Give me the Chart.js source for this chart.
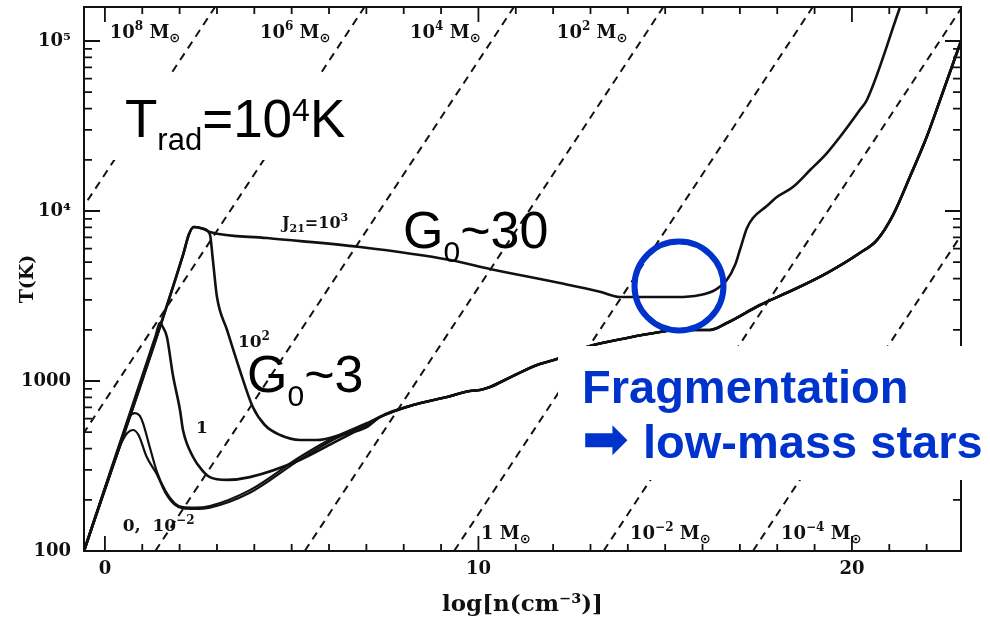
<!DOCTYPE html>
<html>
<head>
<meta charset="utf-8">
<title>Thermal evolution of primordial clouds under FUV radiation</title>
<script src="https://cdn.jsdelivr.net/npm/chart.js@4.4.1/dist/chart.umd.min.js"></script>
<style>
  html, body { margin: 0; padding: 0; background: #fff; }
  canvas { display: block; }
</style>
</head>
<body>
<canvas id="chart" width="990" height="622"></canvas>
<script>
// Axis ranges: x = log n (cm^-3), y = T (K, logarithmic)
const X_MIN = -0.56, X_MAX = 22.92;
const T_MIN = 100, T_MAX = 158489;

// Tick labels
const xTickValues = [0, 10, 20];
const xTickLabels = ['0', '10', '20'];
const yTickValues = [100, 1000, 10000, 100000];
const yTickLabels = ['100', '1000', '10⁴', '10⁵'];

// Individual early parts of each track (J21 = 0, 10^-2, 1, 10^2)
const j0X = [-0.56, 0.27, 0.45, 0.6, 0.75, 0.9, 1.12, 1.39, 1.61, 1.87, 2.09, 2.41, 2.81, 3.88, 5.22, 6.1, 7.01];
const j0T = [100, 343, 437, 494, 515, 481, 357, 283, 222, 187, 178, 177, 180, 220, 345, 450, 556];

const jm2X = [-0.56, 0.5, 0.66, 0.8, 0.93, 1.02, 1.2, 1.39, 1.61, 1.87, 2.09, 2.41, 2.81, 3.88, 5.22, 6.1, 7.01];
const jm2T = [100, 496, 615, 648, 625, 566, 409, 293, 228, 191, 181, 180, 184, 228, 357, 462, 566];

const j1X = [-0.56, 1.36, 1.47, 1.55, 1.66, 1.82, 2.01, 2.09, 2.36, 2.6, 2.81, 3.27, 3.88, 5.22, 6.1, 7.01];
const j1T = [100, 1850, 2190, 2078, 1815, 1084, 675, 515, 357, 299, 272, 262, 272, 343, 431, 551];

const j100X = [-0.56, 2.1, 2.25, 2.38, 2.6, 2.81, 2.89, 3.0, 3.27, 3.61, 3.96, 4.28, 4.69, 5.22, 5.68, 6.29, 7.01];
const j100T = [100, 5600, 7300, 8050, 7900, 7300, 5152, 3119, 1995, 1161, 703, 551, 481, 450, 450, 481, 536];

// Common high-density branch shared by the four tracks above
const mergedX = [7.36, 8.25, 9.16, 9.77, 10.04, 10.31, 10.92, 11.57, 12.1, 12.9, 13.98, 14.86, 15.31, 16.2, 16.65, 17.54, 18.42, 19.33, 20.21, 20.67, 21.1, 21.55, 22.0, 22.36, 22.92];
const mergedT = [614, 722, 805, 873, 885, 922, 1069, 1242, 1346, 1585, 1791, 1941, 1995, 1995, 2193, 2799, 3428, 4315, 5662, 6747, 9462, 15850, 27230, 44990, 100000];

// J21 = 10^3 track
const j1000X = [-0.56, 2.1, 2.25, 2.38, 2.6, 2.81, 4.34, 6.83, 9.24, 10.31, 12.18, 13.25, 13.79, 14.59, 15.31, 15.93, 16.33, 16.65, 16.87, 17.0, 17.19, 17.35, 17.72, 17.99, 18.42, 18.88, 19.33, 19.76, 20.21, 20.4, 21.28];
const j1000T = [100, 5600, 7300, 8050, 7900, 7520, 6930, 6138, 5150, 4560, 3767, 3350, 3119, 3119, 3119, 3206, 3428, 3924, 4808, 5897, 7943, 9100, 10700, 12080, 13840, 17420, 21930, 28770, 39270, 44990, 156400];

// Constant Jeans-mass lines: log n where each reaches T = 100 K and T = T_MAX
const jeansLowX  = [-6.65, -2.65, 1.35, 5.35, 9.35, 13.35, 17.35];
const jeansHighX = [2.95, 6.95, 10.95, 14.95, 18.95, 22.95, 26.95];
const massBase = ['10', '10', '10', '10', '1', '10', '10'];
const massExp  = ['8', '6', '4', '2', '', '−2', '−4'];

const INK = '#111';
const BLUE = '#0033cc';
const SERIF = '"DejaVu Serif", serif';
const SANS = '"Liberation Sans", Arial, sans-serif';

const pts = (xs, ts) => xs.map((v, i) => ({ x: v, y: ts[i] }));

const curve = (data, width) => ({
  data, showLine: true, borderColor: INK, borderWidth: width,
  pointRadius: 0, cubicInterpolationMode: 'monotone', fill: false
});

const datasets = [];
for (let i = 0; i < jeansLowX.length; i++) {
  datasets.push({
    data: [{ x: jeansLowX[i], y: T_MIN }, { x: jeansHighX[i], y: T_MAX }],
    showLine: true, borderColor: INK, borderWidth: 2, borderDash: [8, 6],
    pointRadius: 0, fill: false
  });
}
datasets.push(curve(pts(j0X.concat(mergedX), j0T.concat(mergedT)), 2.2));
datasets.push(curve(pts(jm2X.concat(mergedX), jm2T.concat(mergedT)), 2.2));
datasets.push(curve(pts(j1X.concat(mergedX), j1T.concat(mergedT)), 2.6));
datasets.push(curve(pts(j100X.concat(mergedX), j100T.concat(mergedT)), 2.6));
datasets.push(curve(pts(j1000X, j1000T), 2.6));

function drawRich(ctx, x, y, parts, weight) {
  let cx = x;
  for (const [text, size, dy, family] of parts) {
    ctx.font = `${weight} ${size}px ${family || SERIF}`;
    ctx.fillText(text, cx, y + dy);
    cx += ctx.measureText(text).width;
  }
  return cx;
}

const decorations = {
  id: 'decorations',
  afterDatasetsDraw(chart) {
    const { ctx, chartArea: a, scales: { x, y } } = chart;
    ctx.save();

    // frame
    ctx.strokeStyle = INK;
    ctx.lineWidth = 2;
    ctx.strokeRect(a.left, a.top, a.right - a.left, a.bottom - a.top);

    // inward tick marks on all four sides
    ctx.lineWidth = 1.8;
    ctx.beginPath();
    for (let v = 0; v <= 22; v++) {
      const px = x.getPixelForValue(v);
      const len = xTickValues.includes(v) ? 15 : 7;
      ctx.moveTo(px, a.bottom); ctx.lineTo(px, a.bottom - len);
      ctx.moveTo(px, a.top); ctx.lineTo(px, a.top + len);
    }
    for (let d = 100; d <= 100000; d *= 10) {
      for (let m = 1; m <= 9; m++) {
        const v = d * m;
        if (v > T_MAX) break;
        const py = y.getPixelForValue(v);
        const len = m === 1 ? 16 : 8;
        ctx.moveTo(a.left, py); ctx.lineTo(a.left + len, py);
        ctx.moveTo(a.right, py); ctx.lineTo(a.right - len, py);
      }
    }
    ctx.stroke();

    ctx.fillStyle = INK;
    ctx.textAlign = 'left';
    ctx.textBaseline = 'alphabetic';

    // Jeans-mass labels
    const massAnchor = [
      [0.13, 104000], [4.15, 104000], [8.17, 104000], [12.1, 104000],
      [10.07, 117], [14.06, 117], [18.1, 117]
    ];
    massAnchor.forEach(([mx, mt], i) => {
      const parts = [[massBase[i], 18, 0]];
      if (massExp[i]) parts.push([massExp[i], 12, -8]);
      parts.push([' M', 18, 0]);
      parts.push(['⊙', 13, 4, '"DejaVu Sans", sans-serif']);
      drawRich(ctx, x.getPixelForValue(mx), y.getPixelForValue(mt), parts, 'bold');
    });

    // track labels
    drawRich(ctx, x.getPixelForValue(4.74), y.getPixelForValue(7940),
      [['J', 16, 0], ['21', 11, 4], ['=10', 16, 0], ['3', 11, -7]], 'bold');
    drawRich(ctx, x.getPixelForValue(3.56), y.getPixelForValue(1585),
      [['10', 17, 0], ['2', 12, -7]], 'bold');
    drawRich(ctx, x.getPixelForValue(2.44), y.getPixelForValue(494),
      [['1', 17, 0]], 'bold');
    drawRich(ctx, x.getPixelForValue(0.48), y.getPixelForValue(131),
      [['0,  10', 17, 0], ['−2', 12, -7]], 'bold');

    // annotation panels
    ctx.fillStyle = '#fff';
    ctx.fillRect(103, 73, 270, 87);
    ctx.fillRect(558, 346, 432, 134);

    ctx.fillStyle = '#000';
    drawRich(ctx, 125, 137,
      [['T', 53, 0, SANS], ['rad', 31, 13, SANS], ['=10', 53, 0, SANS], ['4', 32, -16, SANS], ['K', 53, 0, SANS]], 'normal');
    drawRich(ctx, 403, 248, [['G', 52, 0, SANS], ['0', 30, 14, SANS], ['~30', 52, 0, SANS]], 'normal');
    drawRich(ctx, 247, 392, [['G', 52, 0, SANS], ['0', 30, 14, SANS], ['~3', 52, 0, SANS]], 'normal');

    ctx.fillStyle = BLUE;
    ctx.font = `bold 47px ${SANS}`;
    ctx.fillText('Fragmentation', 582, 403);
    ctx.font = 'bold 56px "DejaVu Sans", sans-serif';
    ctx.textBaseline = 'middle';
    ctx.fillText('➡', 582, 443);
    ctx.textBaseline = 'alphabetic';
    ctx.font = `bold 47px ${SANS}`;
    ctx.fillText('low-mass stars', 643, 458);

    // highlight ring
    ctx.strokeStyle = BLUE;
    ctx.lineWidth = 6;
    ctx.beginPath();
    ctx.arc(x.getPixelForValue(15.37), y.getPixelForValue(3622), 44.5, 0, Math.PI * 2);
    ctx.stroke();

    ctx.restore();
  }
};

new Chart(document.getElementById('chart'), {
  type: 'scatter',
  data: { datasets },
  options: {
    responsive: false,
    animation: false,
    devicePixelRatio: 1,
    layout: { padding: { top: 7, right: 29, left: 0, bottom: 0 } },
    plugins: { legend: { display: false }, tooltip: { enabled: false } },
    scales: {
      x: {
        type: 'linear', min: X_MIN, max: X_MAX,
        afterFit(s) { s.height = 71; s.paddingLeft = 0; s.paddingRight = 0; },
        afterBuildTicks(s) { s.ticks = xTickValues.map(v => ({ value: v })); },
        ticks: {
          autoSkip: false, maxRotation: 0, padding: 8, color: INK,
          font: { family: SERIF, size: 18, weight: 'bold' },
          callback: v => xTickLabels[xTickValues.indexOf(v)]
        },
        grid: { display: false, drawTicks: false },
        border: { display: false },
        title: {
          display: true, text: 'log[n(cm⁻³)]', color: INK,
          font: { family: SERIF, size: 23, weight: 'bold' },
          padding: { top: 0, bottom: 3 }
        }
      },
      y: {
        type: 'logarithmic', min: T_MIN, max: T_MAX,
        afterFit(s) { s.width = 84; s.paddingTop = 0; s.paddingBottom = 0; },
        afterBuildTicks(s) { s.ticks = yTickValues.map(v => ({ value: v })); },
        ticks: {
          autoSkip: false, padding: 13, color: INK,
          font: { family: SERIF, size: 18, weight: 'bold' },
          callback: v => yTickLabels[yTickValues.indexOf(v)]
        },
        grid: { display: false, drawTicks: false },
        border: { display: false },
        title: {
          display: true, text: 'T(K)', color: INK,
          font: { family: SERIF, size: 19, weight: 'bold' },
          padding: { top: 17, bottom: 0 }
        }
      }
    }
  },
  plugins: [decorations]
});
</script>
</body>
</html>
